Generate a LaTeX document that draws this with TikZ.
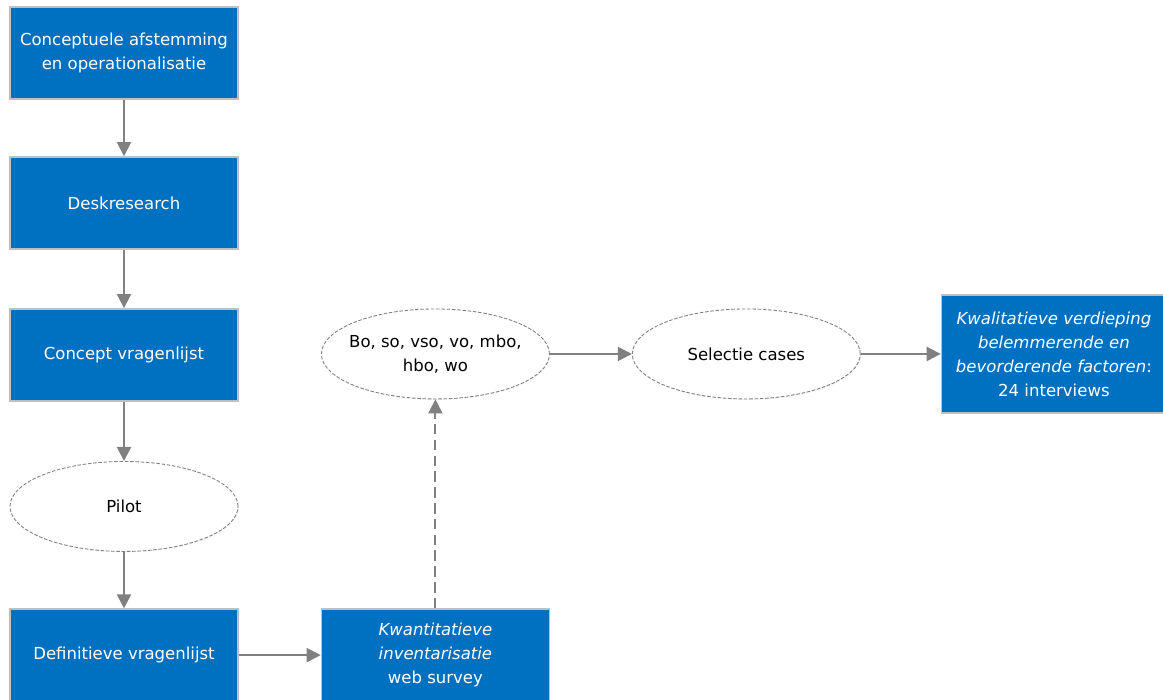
\documentclass[tikz,border=0pt]{standalone}
\usepackage{fontspec}
\setmainfont{DejaVu Sans}
\usepackage{xcolor}
\definecolor{stapblauw}{HTML}{0070C0}
\definecolor{randgrijs}{HTML}{BFBFBF}
\definecolor{pijlgrijs}{HTML}{808080}
\usepackage{tikz}
\usetikzlibrary{arrows.meta,positioning,shapes.geometric,shadows}

\begin{document}
\begin{tikzpicture}[
  stap/.style={draw=randgrijs,line width=0.8pt,fill=stapblauw,text=white,align=center,minimum width=4.56cm,minimum height=1.84cm,inner sep=2pt,font=\fontsize{9.4}{13.7}\selectfont,drop shadow={opacity=0.12,shadow xshift=0.6pt,shadow yshift=-0.6pt}},
  ovaal/.style={ellipse,draw=pijlgrijs,dash pattern=on 2pt off 1pt,line width=0.5pt,fill=white,align=center,minimum width=4.56cm,minimum height=1.8cm,inner sep=0pt,font=\fontsize{9.4}{13.7}\selectfont,drop shadow={opacity=0.08,shadow xshift=0.6pt,shadow yshift=-0.6pt}},
  pijl/.style={-{Triangle[length=8pt,width=8pt]},draw=pijlgrijs,line width=1.1pt}]
\path[use as bounding box,clip] (0,0) rectangle (23.26,-14);
\node[stap] (conc) at (2.48,-1.06) {Conceptuele afstemming\\en operationalisatie};
\node[stap,below=1.13cm of conc] (desk) {Deskresearch};
\node[stap,below=1.17cm of desk] (vrl) {Concept vragenlijst};
\node[ovaal,below=1.19cm of vrl] (pilot) {Pilot};
\node[stap,below=1.13cm of pilot] (def) {Definitieve vragenlijst};
\node[stap,right=1.64cm of def] (kwan) {\textit{Kwantitatieve}\\\textit{inventarisatie}\\web survey};
\node[ovaal,inner xsep=-0.45cm,above=4.18cm of kwan] (onderw) {Bo, so, vso, vo, mbo,\\hbo, wo};
\node[ovaal,right=1.64cm of onderw] (sel) {Selectie cases};
\node[stap,minimum width=4.5cm,minimum height=2.36cm,right=1.6cm of sel] (kwal) {\textit{Kwalitatieve verdieping}\\\textit{belemmerende en}\\\textit{bevorderende factoren}:\\24 interviews};
\draw[pijl] (conc) -- (desk);
\draw[pijl] (desk) -- (vrl);
\draw[pijl] (vrl) -- (pilot);
\draw[pijl] (pilot) -- (def);
\draw[pijl] (def) -- (kwan);
\draw[pijl,dash pattern=on 6pt off 3pt] (kwan) -- (onderw);
\draw[pijl] (onderw) -- (sel);
\draw[pijl] (sel) -- (kwal);
\end{tikzpicture}
\end{document}
